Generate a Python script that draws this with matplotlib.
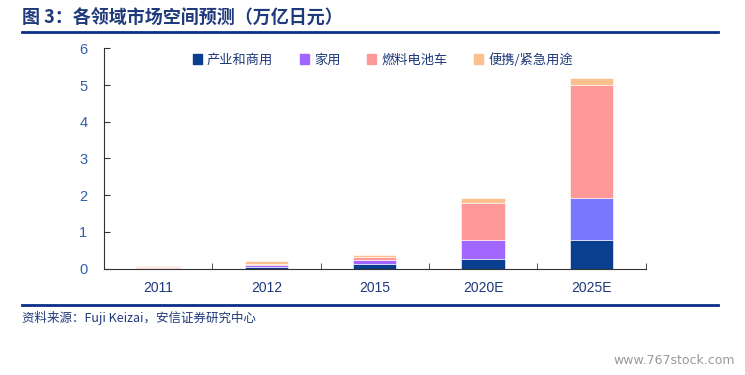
import numpy as np
import matplotlib.pyplot as plt
from matplotlib.patches import Patch

plt.rcParams['font.family'] = ['Noto Sans CJK SC', 'DejaVu Sans']

years = ["2011", "2012", "2015", "2020E", "2025E"]
industrial = [0.005, 0.03, 0.13, 0.26, 0.78]
household = [0.02, 0.07, 0.10, 0.52, 1.13]
fuel_cell_car = [0.02, 0.02, 0.08, 1.01, 3.09]
portable = [0.03, 0.09, 0.06, 0.12, 0.18]
series_names = ["产业和商用", "家用", "燃料电池车", "便携/紧急用途"]

navy = "#0A3F8F"
purple = "#A066FF"
purple_2025 = "#7878FF"
pink = "#FF9999"
peach = "#FCC08E"
text_blue = "#1F3A7A"

fig = plt.figure(figsize=(7.45, 3.75), dpi=100)
ax = fig.add_axes([0.1396, 0.284, 0.727, 0.587])

x = np.arange(len(years))
w = 0.4
ec = "#FFFFFF"
b1 = np.array(industrial)
b2 = b1 + np.array(household)
b3 = b2 + np.array(fuel_cell_car)
ax.bar(x, industrial, w, color=navy, edgecolor=ec, linewidth=0.4)
ax.bar(x, household, w, bottom=b1,
       color=[purple] * 4 + [purple_2025], edgecolor=ec, linewidth=0.4)
ax.bar(x, fuel_cell_car, w, bottom=b2, color=pink, edgecolor=ec, linewidth=0.4)
ax.bar(x, portable, w, bottom=b3, color=peach, edgecolor=ec, linewidth=0.4)

ax.set_xlim(-0.5, 4.5)
ax.set_ylim(0, 6)
ax.set_yticks(range(7))
ax.set_xticks(x)
ax.set_xticklabels(years)
ax.set_xticks(np.arange(-0.5, 5, 1), minor=True)
ax.tick_params(axis='x', which='major', length=0, pad=9, labelsize=10,
               labelcolor=text_blue)
ax.tick_params(axis='x', which='minor', direction='in', length=4, color="#333333")
ax.tick_params(axis='y', direction='in', length=4, pad=12, labelsize=10.5,
               labelcolor="#2F5FA8", color="#333333")
for t in ax.get_xticklabels() + ax.get_yticklabels():
    t.set_family(['Liberation Sans'])
ax.spines['top'].set_visible(False)
ax.spines['right'].set_visible(False)
ax.spines['left'].set_color("#333333")
ax.spines['bottom'].set_color("#333333")

handles = [Patch(color=c) for c in [navy, purple, pink, peach]]
ax.legend(handles, series_names, loc='center', bbox_to_anchor=(0.515, 0.948),
          ncol=4, frameon=False, fontsize=9.5, handlelength=0.7, handleheight=0.7,
          handletextpad=0.4, columnspacing=2.0, labelcolor=text_blue,
          borderpad=0, borderaxespad=0)

# title and rules
fig.text(22 / 745, 1 - 18 / 375, "图 3：各领域市场空间预测（万亿日元）", fontsize=13,
         fontweight='bold', color=text_blue, va='center', ha='left')
fig.add_artist(plt.Line2D([22 / 745, 718 / 745], [1 - 32 / 375] * 2,
                          color="#0A2F8A", linewidth=2))
fig.add_artist(plt.Line2D([22 / 745, 718 / 745], [1 - 305 / 375] * 2,
                          color="#0A2F8A", linewidth=2))
fig.text(22 / 745, 1 - 318 / 375, "资料来源：Fuji Keizai，安信证券研究中心",
         fontsize=9, style='italic', color=text_blue, va='center', ha='left')
fig.text(735 / 745, 1 - 360 / 375, "www.767stock.com", fontsize=9,
         color="#999999", va='center', ha='right', family=['DejaVu Sans'])

plt.savefig("out.png", dpi=100)
